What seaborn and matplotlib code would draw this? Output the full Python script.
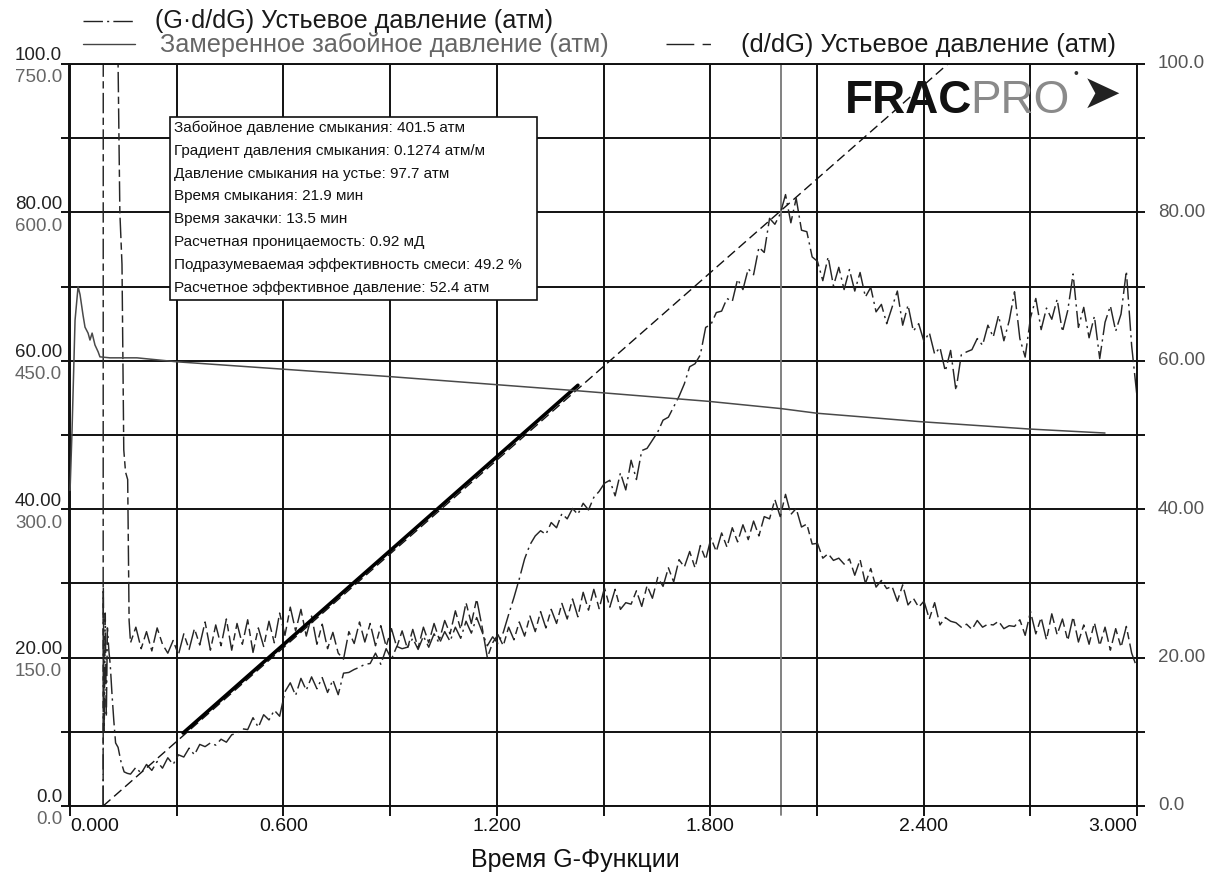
import numpy as np
import pandas as pd
import matplotlib
matplotlib.use("Agg")
import matplotlib.pyplot as plt
import seaborn as sns
from matplotlib.lines import Line2D
from matplotlib.patches import Rectangle

# ---------------- data ----------------
# sample positions (G-function time) of the noisy derivative curves
G_noise = np.linspace(0.17, 3.0, 190)

# early part of d/dG curve (spike at start of shut-in)
dpdg_early_G = [0.093, 0.0935, 0.127, 0.134, 0.140, 0.146, 0.151, 0.156, 0.162, 0.166]
dpdg_early_v = [0, 160, 160, 104, 80, 73, 48, 45, 44, 25]

# d/dG wellhead pressure (atm), right scale 0-100
dpdg_v = [
    22.0, 24.1, 21.2, 23.5, 20.9, 24.0, 21.8, 20.6, 22.3, 20.4,
    23.2, 21.1, 23.9, 21.7, 24.8, 21.0, 24.4, 21.6, 25.2, 21.0,
    24.6, 21.8, 25.1, 20.7, 24.0, 21.5, 24.9, 22.0, 26.0, 23.0,
    26.8, 23.6, 26.5, 22.9, 25.6, 21.8, 24.5, 21.2, 23.4, 20.6,
    19.8, 23.5, 21.9, 24.8, 22.1, 24.6, 21.6, 24.3, 21.5, 23.9,
    21.4, 23.6, 21.2, 23.8, 21.3, 24.1, 22.0, 24.6, 22.4, 25.0,
    23.2, 26.3, 23.8, 27.4, 24.6, 27.9, 24.2, 20.0, 22.0, 23.1,
    21.6, 24.1, 22.4, 24.8, 22.9, 25.6, 23.5, 26.2, 24.0, 26.5,
    24.6, 27.3, 25.2, 27.9, 25.5, 28.8, 26.4, 29.2, 26.6, 29.4,
    26.8, 29.2, 26.5, 27.4, 27.2, 29.0, 26.9, 29.7, 28.0, 30.8,
    29.6, 32.1, 30.2, 33.2, 32.2, 34.3, 32.1, 35.1, 33.2, 36.1,
    34.3, 36.8, 34.9, 37.5, 35.6, 37.9, 35.9, 38.4, 36.4, 39.0,
    38.7, 41.3, 39.0, 42.0, 39.3, 40.1, 37.6, 38.0, 35.3, 35.4,
    33.4, 34.0, 33.1, 33.4, 32.6, 33.3, 31.1, 33.2, 30.0, 32.0,
    29.5, 30.4, 29.3, 29.6, 27.6, 29.8, 27.1, 28.0, 26.8, 27.6,
    25.2, 27.4, 24.4, 25.4, 24.9, 24.7, 24.1, 24.5, 23.8, 25.0,
    24.1, 24.5, 24.4, 24.9, 23.9, 24.3, 24.2, 25.1, 23.0, 26.2,
    23.2, 25.4, 22.4, 25.9, 23.1, 25.2, 22.3, 25.5, 22.1, 24.4,
    21.8, 24.7, 21.6, 24.1, 21.0, 23.9, 21.4, 24.2, 20.6, 18.6,
]

# early part of G*d/dG curve
gdpdg_early_G = [0.093, 0.0935, 0.096, 0.099, 0.102, 0.105, 0.109, 0.113, 0.118, 0.123,
                 0.128, 0.135, 0.143, 0.152, 0.161]
gdpdg_early_v = [0, 29.5, 10, 26, 12, 24, 21, 19, 15, 11.5, 8.5, 7.9, 6.0, 4.6, 4.4]

# G*d/dG wellhead pressure (atm), right scale 0-100
gdpdg_v = [
    4.3, 5.2, 4.4, 5.6, 4.8, 6.0, 5.1, 6.5, 5.6, 6.9,
    6.6, 7.8, 6.9, 8.3, 8.0, 8.5, 8.2, 9.0, 8.6, 9.6,
    9.8, 10.4, 10.3, 11.9, 10.6, 12.3, 11.6, 12.9, 12.1, 15.4,
    16.6, 14.9, 17.2, 15.6, 17.4, 15.8, 17.3, 15.3, 17.0, 15.0,
    17.9, 18.0, 18.4, 18.7, 19.1, 19.2, 20.6, 19.1, 21.2, 19.8,
    21.5, 21.2, 21.4, 22.6, 21.1, 22.9, 21.4, 23.2, 21.9, 23.5,
    22.2, 24.1, 22.6, 24.9, 23.3, 25.4, 23.5, 21.6, 22.8, 21.9,
    23.4, 25.8, 28.1, 30.6, 33.3, 35.2, 36.4, 37.1, 36.6, 38.2,
    37.5, 39.4, 38.7, 40.1, 39.3, 40.8, 39.9, 41.6, 42.4, 43.5,
    43.9, 41.8, 44.9, 42.6, 46.6, 44.0, 47.9, 48.2, 49.3, 50.4,
    52.0, 52.4, 53.8, 55.2, 56.9, 59.2, 59.6, 60.8, 64.5, 64.9,
    66.5, 66.7, 68.4, 68.0, 71.0, 69.6, 72.4, 71.6, 75.3, 74.6,
    79.2, 78.4, 79.8, 82.4, 78.6, 81.9, 77.6, 77.4, 74.0, 73.4,
    70.8, 74.0, 70.1, 72.6, 69.6, 72.3, 69.4, 71.9, 68.6, 69.9,
    66.6, 67.6, 65.0, 67.2, 69.4, 64.8, 67.5, 64.0, 65.0, 62.6,
    63.8, 60.9, 61.8, 58.6, 61.4, 56.0, 60.8, 61.2, 61.5, 63.0,
    62.1, 64.8, 63.2, 66.1, 62.7, 65.4, 69.3, 63.0, 60.5, 65.8,
    68.4, 64.2, 67.1, 65.6, 68.3, 63.9, 66.8, 71.7, 64.5, 67.2,
    63.1, 66.0, 60.3, 65.2, 67.4, 64.0, 66.3, 72.1, 62.0, 55.2,
]

# measured bottom-hole pressure (atm), left scale 0-750
bhp_G = [0.0, 0.0056, 0.014, 0.0225, 0.028, 0.0365, 0.042, 0.0506, 0.056, 0.062,
         0.070, 0.079, 0.084, 0.112, 0.188, 0.300, 0.900, 1.434, 1.796, 1.999,
         2.100, 2.221, 2.390, 2.699, 2.910]
bhp_v = [319, 380, 491, 525, 517, 496, 484, 478, 471, 478,
         466, 459, 454, 453, 453, 449, 434, 419.5, 409, 401.7,
         397, 393.5, 388.5, 381, 377]

# straight line through origin tangent to G*d/dG
tangent_G = [0.093, 2.468]
tangent_v = [0.0, 100.0]
# straight-line fit segment (bold)
fit_G = [0.318, 1.428]
fit_v = [9.84, 56.7]
# closure time (G)
closure_G = 2.0

x_label_vals = [0.0, 0.6, 1.2, 1.8, 2.4, 3.0]
right_labels = ["0.0", "20.00", "40.00", "60.00", "80.00", "100.0"]
right_vals = [0, 20, 40, 60, 80, 100]
left_lower_labels = ["0.0", "150.0", "300.0", "450.0", "600.0", "750.0"]
left_lower_vals = [0, 150, 300, 450, 600, 750]

legend_texts = ["(G\u00b7d/dG) Устьевое давление (атм)",
                "Замеренное забойное давление (атм)",
                "(d/dG) Устьевое давление (атм)"]
box_lines = [
    "Забойное давление смыкания: 401.5 атм",
    "Градиент давления смыкания: 0.1274 атм/м",
    "Давление смыкания на устье: 97.7 атм",
    "Время смыкания: 21.9 мин",
    "Время закачки: 13.5 мин",
    "Расчетная проницаемость: 0.92 мД",
    "Подразумеваемая эффективность смеси: 49.2 %",
    "Расчетное эффективное давление: 52.4 атм",
]
x_title = "Время G-Функции"

# ---------------- style ----------------
sns.set_theme(style="white")
plt.rcParams['font.family'] = ['Liberation Sans', 'DejaVu Sans']

W, H = 1208, 875
fig = plt.figure(figsize=(W / 100, H / 100), dpi=100)
fig.patch.set_facecolor("white")


def fx(px):
    return px / W


def fy(py):
    return 1 - py / H


ax = fig.add_axes([fx(69), fy(806), fx(1137) - fx(69), fy(64) - fy(806)])
ax2 = ax.twinx()
ax.set_facecolor("white")
ax2.patch.set_visible(False)

ax.set_xlim(-0.003, 3.0)
ax.set_ylim(0, 100)
ax2.set_ylim(0, 750)

GRID = "#111111"
ax.set_xticks(np.arange(0, 3.01, 0.3))
ax.set_yticks(np.arange(0, 101, 10))
ax.grid(True, color=GRID, linewidth=1.4)
ax.set_axisbelow(True)
ax.tick_params(axis="x", bottom=True, direction="out", length=7, width=1.4,
               color=GRID, labelbottom=False)
ax.tick_params(axis="y", left=True, right=True, direction="out", length=6, width=1.4,
               color=GRID, labelleft=False, labelright=False)
for s in ax.spines.values():
    s.set_visible(True)
    s.set_color(GRID)
    s.set_linewidth(1.4)
for s in ax2.spines.values():
    s.set_visible(False)
ax2.set_yticks([])
ax2.tick_params(right=False, labelright=False)

# ---------------- data lines ----------------
df_d = pd.DataFrame({"G": np.concatenate([dpdg_early_G, G_noise]),
                     "v": np.concatenate([dpdg_early_v, dpdg_v])})
df_gd = pd.DataFrame({"G": np.concatenate([gdpdg_early_G, G_noise]),
                      "v": np.concatenate([gdpdg_early_v, gdpdg_v])})
df_b = pd.DataFrame({"G": bhp_G, "v": bhp_v})

LINE = "#262626"
sns.lineplot(data=df_d, x="G", y="v", ax=ax, color=LINE, linewidth=1.05,
             linestyle=(0, (14, 3, 5, 3)), sort=False, estimator=None,
             errorbar=None, legend=False)
sns.lineplot(data=df_gd, x="G", y="v", ax=ax, color=LINE, linewidth=1.05,
             linestyle=(0, (14, 3, 1.5, 3)), sort=False, estimator=None,
             errorbar=None, legend=False)
sns.lineplot(x=tangent_G, y=tangent_v, ax=ax, color="#111111", linewidth=1.0,
             linestyle=(0, (7, 3.5)), sort=False, estimator=None, errorbar=None)
sns.lineplot(x=fit_G, y=fit_v, ax=ax, color="#000000", linewidth=2.6,
             sort=False, estimator=None, errorbar=None)
sns.lineplot(data=df_b, x="G", y="v", ax=ax2, color="#4a4a4a", linewidth=1.1,
             sort=False, estimator=None, errorbar=None, legend=False)
ax.axvline(closure_G, ymin=-0.012, ymax=1, color="#777777", linewidth=1.3,
           clip_on=False, zorder=1.5)
ax.set_xlabel("")
ax.set_ylabel("")
ax2.set_ylabel("")

# ---------------- axis labels ----------------
for i, g in enumerate(x_label_vals):
    ha = "left" if i == 0 else ("right" if i == len(x_label_vals) - 1 else "center")
    ax.annotate(f"{g:.3f}", xy=(g, 0), xycoords=("data", "axes fraction"),
                xytext=(0, -14.5), textcoords="offset points", ha=ha, va="center",
                fontsize=14, color="#111111")

for lbl, v in zip(right_labels, right_vals):
    ax.annotate(lbl, xy=(1, v), xycoords=("axes fraction", "data"),
                xytext=(15, 0), textcoords="offset points", ha="left", va="center",
                fontsize=13.5, color="#555555")
    ax.annotate(lbl, xy=(0, v), xycoords=("axes fraction", "data"),
                xytext=(-5, 5.8), textcoords="offset points", ha="right", va="center",
                fontsize=13.5, color="#222222")
for lbl, v in zip(left_lower_labels, left_lower_vals):
    ax2.annotate(lbl, xy=(0, v), xycoords=("axes fraction", "data"),
                 xytext=(-5, -10), textcoords="offset points", ha="right", va="center",
                 fontsize=13.5, color="#666666")

fig.text(fx(575), fy(860), x_title, ha="center", va="center", fontsize=18,
         color="#111111")

# ---------------- legend ----------------
fig.add_artist(Line2D([fx(83), fx(135)], [fy(21), fy(21)], transform=fig.transFigure,
                      color="#222222", linewidth=1.0, linestyle=(0, (14, 3, 1.5, 3))))
fig.add_artist(Line2D([fx(83), fx(135)], [fy(44), fy(44)], transform=fig.transFigure,
                      color="#444444", linewidth=1.0))
fig.add_artist(Line2D([fx(666), fx(718)], [fy(44), fy(44)], transform=fig.transFigure,
                      color="#222222", linewidth=1.0, linestyle=(0, (20, 6, 6, 6))))
fig.text(fx(155), fy(21), legend_texts[0], ha="left", va="center", fontsize=18.1,
         color="#1a1a1a")
fig.text(fx(160), fy(45), legend_texts[1], ha="left", va="center", fontsize=18.2,
         color="#666666")
fig.text(fx(741), fy(45), legend_texts[2], ha="left", va="center", fontsize=18.4,
         color="#1a1a1a")

# ---------------- info box ----------------
fig.add_artist(Rectangle((fx(170), fy(300)), fx(537) - fx(170), (300 - 117) / H,
                         transform=fig.transFigure, facecolor="white",
                         edgecolor="#111111", linewidth=1.2, zorder=5))
for k, line in enumerate(box_lines):
    fig.text(fx(174), fy(128 + 22.8 * k), line, ha="left", va="center",
             fontsize=11, color="#111111", zorder=6)

# ---------------- logo ----------------
fig.text(fx(845), fy(113), "FRAC", ha="left", va="baseline", fontsize=33,
         fontweight="bold", color="#111111")
fig.text(fx(970), fy(113), "PRO", ha="left", va="baseline", fontsize=33,
         color="#8a8a8a")
fig.text(fx(1074), fy(74), "\u2022", ha="left", va="center", fontsize=10,
         color="#333333")
fig.text(fx(1082), fy(95), "\u27a4", ha="left", va="center", fontsize=34,
         color="#222222", family=["DejaVu Sans"])

fig.savefig("out.png", dpi=100, facecolor="white")
